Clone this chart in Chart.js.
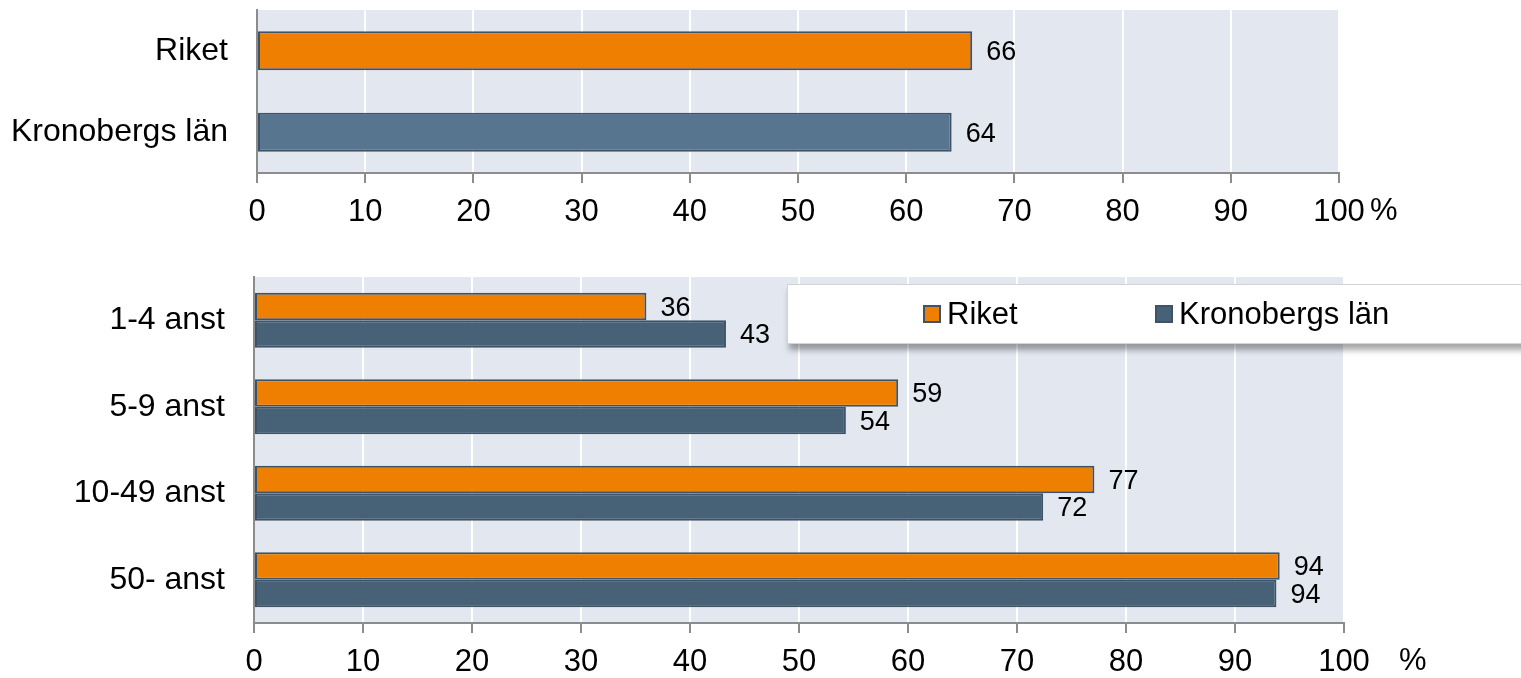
<!DOCTYPE html>
<html>
<head>
<meta charset="utf-8">
<script src="https://cdn.jsdelivr.net/npm/chart.js@4/dist/chart.umd.min.js"></script>
<style>
  html, body { margin: 0; padding: 0; background: #ffffff; }
  body { width: 1521px; height: 678px; position: relative; overflow: hidden; font-family: "Liberation Sans", Arial, sans-serif; }
  #wrap1 { position: absolute; left: 0; top: 0; width: 1521px; height: 240px; }
  #wrap2 { position: absolute; left: 0; top: 250px; width: 1521px; height: 428px; }
  #legend { position: absolute; left: 787px; top: 284px; width: 780px; height: 58px; background: #ffffff;
            border: 1px solid #d4d4d4; box-shadow: 2px 6px 6px rgba(0,0,0,0.35); z-index: 5; }
  .li { position: absolute; top: 0; height: 58px; display: flex; align-items: center; font-size: 31px; color: #000; white-space: nowrap; }
  .sw { width: 14px; height: 14px; border: 2px solid #3E5268; margin-right: 6px; }
</style>
</head>
<body>
<div id="wrap1"><canvas id="c1" width="1521" height="240"></canvas></div>
<div id="wrap2"><canvas id="c2" width="1521" height="428"></canvas></div>
<div id="legend"></div>
<script>
// ---- data ----
const topCategories = ["Riket", "Kronobergs län"];
const topValues = [66.1, 64.2];

const sizeCategories = ["1-4 anst", "5-9 anst", "10-49 anst", "50- anst"];
const seriesNames = ["Riket", "Kronobergs län"];
const riketValues = [36.0, 59.1, 77.1, 94.1];
const kronobergValues = [43.3, 54.3, 72.4, 93.8];

const xTickValues = [0, 10, 20, 30, 40, 50, 60, 70, 80, 90, 100];
const unitLabel = "%";

// ---- styles ----
const ORANGE = "#EF7F00";
const BLUE_TOP = "#57758E";
const BLUE = "#476176";
const BORDER = "#3E5268";
const PLOT_BG = "#E3E7EF";
const AXIS_GRAY = "#8C8C8C";
const FONT = "'Liberation Sans', Arial, sans-serif";

const bgPlugin = {
  id: "plotBg",
  beforeDraw(chart) {
    const a = chart.chartArea, ctx = chart.ctx;
    ctx.save();
    ctx.fillStyle = PLOT_BG;
    ctx.fillRect(a.left, a.top, a.right - a.left, a.bottom - a.top);
    ctx.restore();
  }
};

function makeLabelPlugin(percentOffset) {
  return {
    id: "valueLabels",
    afterDatasetsDraw(chart) {
      const ctx = chart.ctx;
      ctx.save();
      ctx.font = "27px " + FONT;
      ctx.fillStyle = "#000";
      ctx.textAlign = "left";
      ctx.textBaseline = "middle";
      chart.data.datasets.forEach((ds, di) => {
        const meta = chart.getDatasetMeta(di);
        meta.data.forEach((bar, i) => {
          const v = ds.data[i];
          ctx.fillText(String(Math.round(v)), bar.x + 14, bar.y + 2);
        });
      });
      // unit label next to the last x tick
      const xs = chart.scales.x;
      ctx.font = "31px " + FONT;
      ctx.fillText(unitLabel, xs.getPixelForValue(100) + percentOffset, chart.chartArea.bottom + 38);
      ctx.restore();
    }
  };
}

function xScaleOpts(height) {
  return {
    type: "linear",
    min: 0, max: 100,
    afterBuildTicks(scale) { scale.ticks = xTickValues.map(v => ({ value: v })); },
    afterFit(scale) { scale.height = height; },
    grid: { color: "#ffffff", lineWidth: 2, tickColor: AXIS_GRAY, tickLength: 10, tickWidth: 2 },
    border: { color: AXIS_GRAY, width: 2 },
    ticks: { color: "#000", font: { family: FONT, size: 31 }, padding: 11, maxRotation: 0, autoSkip: false }
  };
}

function yScaleOpts(width) {
  return {
    type: "category",
    afterFit(scale) { scale.width = width; scale.paddingTop = 0; scale.paddingBottom = 0; },
    grid: { display: false },
    border: { color: AXIS_GRAY, width: 2 },
    ticks: { color: "#000", font: { family: FONT, size: 32 }, padding: 21 }
  };
}

// ---- top chart ----
new Chart(document.getElementById("c1"), {
  type: "bar",
  data: {
    labels: topCategories,
    datasets: [{
      label: "Andel",
      data: topValues,
      backgroundColor: [ORANGE, BLUE_TOP],
      borderColor: BORDER,
      borderWidth: 2,
      borderSkipped: false,
      categoryPercentage: 0.96,
      barPercentage: 0.5
    }]
  },
  options: {
    indexAxis: "y",
    responsive: false,
    animation: false,
    layout: { padding: { left: 0, right: 182, top: 10, bottom: 0 } },
    plugins: { legend: { display: false }, tooltip: { enabled: false } },
    scales: { x: xScaleOpts(67), y: yScaleOpts(257) }
  },
  plugins: [bgPlugin, makeLabelPlugin(31)]
});

// ---- bottom chart ----
new Chart(document.getElementById("c2"), {
  type: "bar",
  data: {
    labels: sizeCategories,
    datasets: [
      { label: seriesNames[0], data: riketValues, backgroundColor: ORANGE, borderColor: BORDER, borderWidth: 2, borderSkipped: false, categoryPercentage: 0.636, barPercentage: 1 },
      { label: seriesNames[1], data: kronobergValues, backgroundColor: BLUE, borderColor: BORDER, borderWidth: 2, borderSkipped: false, categoryPercentage: 0.636, barPercentage: 1 }
    ]
  },
  options: {
    indexAxis: "y",
    responsive: false,
    animation: false,
    layout: { padding: { left: 0, right: 177, top: 27, bottom: 0 } },
    plugins: { legend: { display: false }, tooltip: { enabled: false } },
    scales: { x: xScaleOpts(55), y: yScaleOpts(254) }
  },
  plugins: [bgPlugin, makeLabelPlugin(55)]
});

// ---- legend (HTML overlay) ----
const legendEl = document.getElementById("legend");
const legendColors = [ORANGE, BLUE];
const legendLefts = [923 - 788, 1155 - 788];
seriesNames.forEach((name, i) => {
  const item = document.createElement("div");
  item.className = "li";
  item.style.left = legendLefts[i] + "px";
  const sw = document.createElement("span");
  sw.className = "sw";
  sw.style.background = legendColors[i];
  const tx = document.createElement("span");
  tx.textContent = name;
  item.appendChild(sw);
  item.appendChild(tx);
  legendEl.appendChild(item);
});
</script>
</body>
</html>
